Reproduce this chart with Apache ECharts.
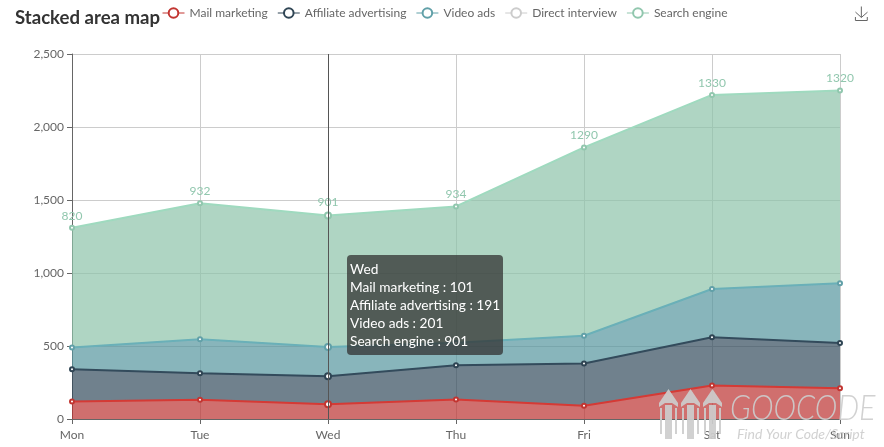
<!DOCTYPE html>
<html>
<head>
<meta charset="utf-8">
<script src="https://cdn.jsdelivr.net/npm/echarts@6/dist/echarts.min.js"></script>
<style>html,body{margin:0;padding:0;background:#fff}#c{width:884px;height:447px}</style>
</head>
<body>
<div id="c"></div>
<script>
const categories = ['Mon','Tue','Wed','Thu','Fri','Sat','Sun'];
const seriesNames = ['Mail marketing','Affiliate advertising','Video ads','Direct interview','Search engine'];
const mailMarketing = [120,132,101,134,90,230,210];
const affiliateAdvertising = [220,182,191,234,290,330,310];
const videoAds = [150,232,201,154,190,330,410];
const directInterview = [320,332,301,334,390,330,320];
const searchEngine = [820,932,901,934,1290,1330,1320];
const colors = ['#c23531','#2f4554','#61a0a8','#d48265','#91c7ae'];
const areaColors = ['#ab2e2d','#2f4554','#4e8990','#d48265','#81b29a'];
const values = [mailMarketing, affiliateAdvertising, videoAds, directInterview, searchEngine];
const font = 'Lato,"Noto Sans",sans-serif';

const chart = echarts.init(document.getElementById('c'));
const series = seriesNames.map((name,i)=>({
  name, type:'line', stack:'total', data:values[i],
  symbol:'emptyCircle', symbolSize:4, showSymbol:true,
  itemStyle:{borderWidth:0.8},
  lineStyle:{width:2}, areaStyle:{color:areaColors[i],opacity:0.7},
  label: i===4 ? {show:true,position:'top',distance:3,color:'#91c7ae',fontFamily:font,fontSize:12} : {show:false},
  animation:false
}));

const wm = 'rgba(205,205,205,0.92)';
const pencil = x => [
  {type:'polygon',shape:{points:[[x,403],[x+9.5,389],[x+19,403],[x+19,407],[x+13,403],[x+6,403],[x,407]]},style:{fill:wm},z:100},
  {type:'rect',shape:{x:x+6,y:405,width:7,height:34},style:{fill:wm},z:100},
  {type:'rect',shape:{x:x+1,y:408,width:2,height:26},style:{fill:wm},z:100},
  {type:'rect',shape:{x:x+16,y:408,width:2,height:26},style:{fill:wm},z:100}
];

chart.setOption({
  color:colors,
  animation:false,
  title:{text:'Stacked area map',left:10,top:3,textStyle:{fontFamily:font,fontSize:18.6,fontWeight:'bold',color:'#333'}},
  legend:{data:seriesNames,left:157,top:2,itemWidth:22,itemHeight:12,itemGap:9.5,
    selected:{'Direct interview':false},
    formatter:n=>n==='Direct interview'?'{d|'+n+'}':n,
    itemStyle:{borderWidth:0.8},
    lineStyle:{width:1,inactiveColor:'#ccc',inactiveWidth:1},
    textStyle:{fontFamily:font,fontSize:12,color:'#666',rich:{d:{color:'#666',fontFamily:font,fontSize:12}}},
    inactiveColor:'#ccc',inactiveBorderColor:'#ccc'},
  toolbox:{right:-1,top:-11,itemSize:14,feature:{saveAsImage:{title:''}},iconStyle:{borderColor:'#666'}},
  tooltip:{trigger:'axis',alwaysShowContent:true,transitionDuration:0,
    axisPointer:{type:'line',lineStyle:{color:'#555',width:1,type:'solid'}},
    backgroundColor:'rgba(50,50,50,0.75)',borderWidth:0,borderRadius:4,padding:[5,3],
    textStyle:{color:'#fff',fontSize:13.7,fontFamily:font,lineHeight:18},
    extraCssText:'box-shadow:none;line-height:18px;width:150px;white-space:nowrap;',
    position:[347,255],
    formatter:p=>p[0].axisValue+'<br/>'+p.map(s=>s.seriesName+' : '+s.value).join('<br/>')},
  grid:{left:72,right:44,top:54,bottom:28},
  xAxis:{type:'category',boundaryGap:false,data:categories,
    axisLine:{show:true,onZero:true,lineStyle:{color:'#666'}},axisTick:{show:true,lineStyle:{color:'#666'}},
    axisLabel:{color:'#666',fontFamily:font,fontSize:12,margin:10,showMinLabel:true,showMaxLabel:true},
    splitLine:{show:true,lineStyle:{color:'#ccc'}}},
  yAxis:{type:'value',min:0,max:2500,interval:500,
    axisLine:{show:true,lineStyle:{color:'#666'}},axisTick:{show:true,lineStyle:{color:'#666'}},
    axisLabel:{color:'#666',fontFamily:font,fontSize:12,margin:8,formatter:v=>v.toLocaleString('en-US')},
    splitLine:{show:true,lineStyle:{color:'#ccc'}}},
  series,
  graphic:{elements:[
    ...pencil(659),...pencil(681),...pencil(703),
    {type:'text',x:730,y:390,scaleX:0.85,z:100,style:{text:'GOOCODE',fontFamily:font,fontSize:36,fontStyle:'italic',fontWeight:300,fill:wm}},
    {type:'text',x:737,y:427,z:100,style:{text:'Find Your Code/Script',fontFamily:font,fontSize:14,fontStyle:'italic',fill:wm}}
  ]}
});
chart.dispatchAction({type:'showTip',seriesIndex:0,dataIndex:2});
</script>
</body>
</html>
